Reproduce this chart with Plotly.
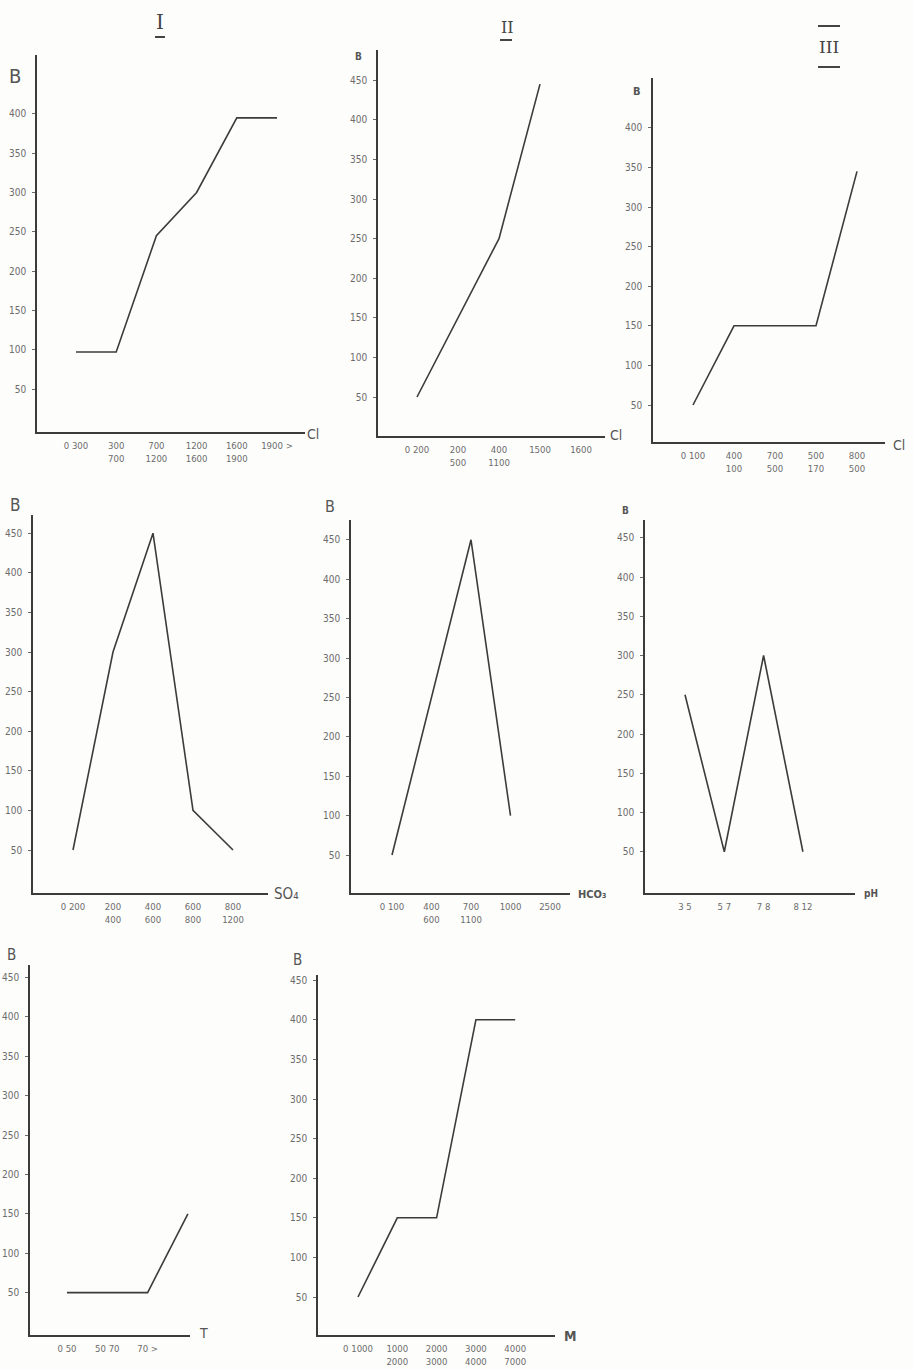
import plotly.graph_objects as go

W, H = 913, 1369

# ---- data: value B by class of each water parameter ----
cl1_cats = ["0 300", "300<br>700", "700<br>1200", "1200<br>1600", "1600<br>1900", "1900 >"]
cl1_vals = [97, 97, 245, 300, 395, 395]

cl2_cats = ["0 200", "200<br>500", "400<br>1100", "1500", "1600"]
cl2_vals = [50, 150, 250, 445, None]

cl3_cats = ["0 100", "400<br>100", "700<br>500", "500<br>170", "800<br>500"]
cl3_vals = [50, 150, None, 150, 345]

so4_cats = ["0 200", "200<br>400", "400<br>600", "600<br>800", "800<br>1200"]
so4_vals = [50, 300, 450, 100, 50]

hco3_cats = ["0 100", "400<br>600", "700<br>1100", "1000", "2500"]
hco3_vals = [50, None, 450, 100, None]

ph_cats = ["3 5", "5 7", "7 8", "8 12"]
ph_vals = [250, 50, 300, 50]

t_cats = ["0 50", "50 70", "70 >", None]
t_vals = [50, 50, 50, 150]

m_cats = ["0 1000", "1000<br>2000", "2000<br>3000", "3000<br>4000", "4000<br>7000"]
m_vals = [50, 150, 150, 400, 400]

ticks_450 = [50, 100, 150, 200, 250, 300, 350, 400, 450]
ticks_400 = [50, 100, 150, 200, 250, 300, 350, 400]

# ---- panel geometry (pixels): axis box, y calibration, x calibration ----
# xt / bl: (text, x px, y px, font size, weight)
panels = [
    dict(cats=cl1_cats, vals=cl1_vals, box=(37, 305, 55, 432), z0=428.3, s50=39.3,
         c0=76, d=40.2, yt=ticks_400, xt=("Cl", 313, 434, 14, "normal"), bl=("B", 15, 76, 20, "normal")),
    dict(cats=cl2_cats, vals=cl2_vals, box=(378, 605, 50, 436), z0=436.6, s50=39.6,
         c0=417, d=41, yt=ticks_450, xt=("Cl", 616, 435, 14, "normal"), bl=("B", 358, 56, 10, "bold")),
    dict(cats=cl3_cats, vals=cl3_vals, box=(653, 885, 78, 442), z0=444.6, s50=39.6,
         c0=693, d=41, yt=ticks_400, xt=("Cl", 899, 445, 14, "normal"), bl=("B", 637, 91, 11, "bold")),
    dict(cats=so4_cats, vals=so4_vals, box=(33, 268, 515, 893), z0=889.6, s50=39.6,
         c0=73, d=40, yt=ticks_450, xt=("SO₄", 286, 894, 15, "normal"), bl=("B", 15, 505, 17, "normal")),
    dict(cats=hco3_cats, vals=hco3_vals, box=(351, 570, 520, 893), z0=894.4, s50=39.4,
         c0=392, d=39.5, yt=ticks_450, xt=("HCO₃", 592, 894, 11, "bold"), bl=("B", 330, 507, 16, "normal")),
    dict(cats=ph_cats, vals=ph_vals, box=(645, 855, 520, 893), z0=891, s50=39.25,
         c0=685, d=39.3, yt=ticks_450, xt=("pH", 871, 893, 10, "bold"), bl=("B", 625, 510, 10, "bold")),
    dict(cats=t_cats, vals=t_vals, box=(30, 190, 965, 1335), z0=1332, s50=39.4,
         c0=67, d=40.3, yt=ticks_450, xt=("T", 203, 1333, 14, "normal"), bl=("B", 11, 955, 15, "normal")),
    dict(cats=m_cats, vals=m_vals, box=(318, 555, 975, 1335), z0=1336.6, s50=39.6,
         c0=358, d=39.3, yt=ticks_450, xt=("M", 570, 1336, 14, "bold"), bl=("B", 297, 960, 15, "normal")),
]

INK = "#3c3c3c"
LABEL = "#6c6c6c"
FONT = "DejaVu Sans Condensed, Liberation Sans Narrow, DejaVu Sans, sans-serif"

fig = go.Figure()
annotations = []


def paper_label(text, px, py, size, weight, family=FONT, color="#555555"):
    return dict(text=text, x=px / W, y=1 - py / H, xref="paper", yref="paper",
                xanchor="center", yanchor="middle", showarrow=False,
                font=dict(family=family, size=size, color=color, weight=weight))


for i, p in enumerate(panels, start=1):
    l, r, t, b = p["box"]
    px_per_unit = p["s50"] / 50.0
    yr = [(p["z0"] - b) / px_per_unit, (p["z0"] - t) / px_per_unit]
    xr = [(l - p["c0"]) / p["d"], (r - p["c0"]) / p["d"]]
    idx = list(range(len(p["cats"])))
    labelled = [k for k in idx if p["cats"][k]]
    xa = "x" if i == 1 else f"x{i}"
    ya = "y" if i == 1 else f"y{i}"
    fig.add_trace(go.Scatter(
        x=idx, y=p["vals"], mode="lines", connectgaps=True,
        line=dict(color=INK, width=1.6), xaxis=xa, yaxis=ya,
        hoverinfo="skip", showlegend=False,
    ))
    xkey = "xaxis" if i == 1 else f"xaxis{i}"
    ykey = "yaxis" if i == 1 else f"yaxis{i}"
    fig.layout[xkey] = dict(
        domain=[l / W, r / W], range=xr, anchor=ya,
        tickmode="array", tickvals=labelled, ticktext=[p["cats"][k] for k in labelled],
        showgrid=False, zeroline=False, showline=True, linecolor=INK, linewidth=1.6,
        ticks="", tickfont=dict(family=FONT, size=9.5, color=LABEL), ticklabelstandoff=4,
        fixedrange=True,
    )
    fig.layout[ykey] = dict(
        domain=[1 - b / H, 1 - t / H], range=yr, anchor=xa,
        tickmode="array", tickvals=p["yt"], ticktext=[str(v) for v in p["yt"]],
        showgrid=False, zeroline=False, showline=True, linecolor=INK, linewidth=1.6,
        ticks="outside", ticklen=3, tickcolor=LABEL, tickwidth=1,
        tickfont=dict(family=FONT, size=10, color=LABEL), ticklabelstandoff=4,
        fixedrange=True,
    )
    annotations.append(paper_label(*p["xt"]))
    annotations.append(paper_label(*p["bl"]))

# column headings
SERIF = "DejaVu Serif, Liberation Serif, serif"
for txt, hx, hy, fs in [("I", 160, 22, 20), ("II", 507, 28, 16), ("III", 829, 47, 17)]:
    annotations.append(paper_label(txt, hx, hy, fs, "normal", family=SERIF, color="#444444"))

shapes = []
for x0, x1, yy in [(155, 165, 37), (500, 512, 40), (818, 840, 26), (818, 840, 67)]:
    shapes.append(dict(type="line", xref="paper", yref="paper",
                       x0=x0 / W, x1=x1 / W, y0=1 - yy / H, y1=1 - yy / H,
                       line=dict(color="#444444", width=2)))

fig.update_layout(
    width=W, height=H, margin=dict(l=0, r=0, t=0, b=0),
    paper_bgcolor="#fdfdfb", plot_bgcolor="rgba(0,0,0,0)",
    annotations=annotations, shapes=shapes, showlegend=False,
)

fig.write_html("out.html")
